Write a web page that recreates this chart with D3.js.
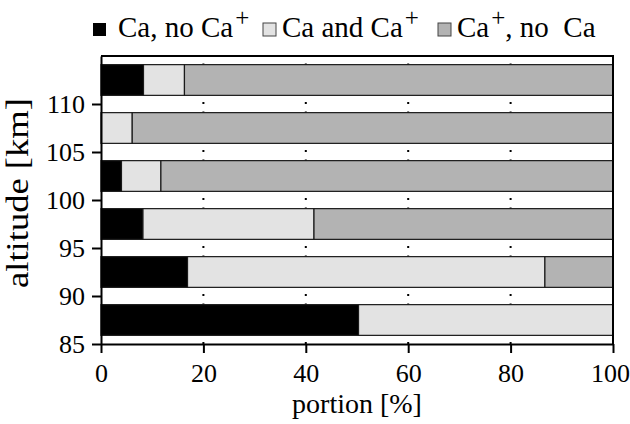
<!DOCTYPE html>
<html>
<head>
<meta charset="utf-8">
<script src="https://cdn.jsdelivr.net/npm/d3@7"></script>
<style>
  body { margin: 0; background: #fff; }
  svg text { font-family: "Liberation Serif", "Times New Roman", Tinos, "DejaVu Serif", serif; fill: #000; }
</style>
</head>
<body>
<div id="chart"></div>
<script>
// altitude bins (centre of each 5 km band) and portions in %
const altitudes = [87.5, 92.5, 97.5, 102.5, 107.5, 112.5];
const caOnly    = [50.3, 16.9, 8.2, 4.0, 0.0, 8.3];
const caBoth    = [49.7, 69.8, 33.4, 7.7, 6.1, 8.0];
const ionOnly   = [0.0, 13.3, 58.4, 88.3, 93.9, 83.7];
const xTicks = [0, 20, 40, 60, 80, 100];
const yTicks = [85, 90, 95, 100, 105, 110];

const seriesNames = ["caOnly", "caBoth", "ionOnly"];
const colors = { caOnly: "#000000", caBoth: "#e3e3e3", ionOnly: "#b3b3b3" };
const serif = "'Liberation Serif', 'Times New Roman', Tinos, 'DejaVu Serif', serif";

const width = 630;
const height = 424;
const margin = { top: 56, right: 17, bottom: 80, left: 101 };

const rows = altitudes.map((a, i) => ({
  alt: a, caOnly: caOnly[i], caBoth: caBoth[i], ionOnly: ionOnly[i]
}));
const stacked = d3.stack().keys(seriesNames)(rows);

const svg = d3.select("#chart")
  .append("svg")
  .attr("width", width)
  .attr("height", height);

const x = d3.scaleLinear()
  .domain([0, 100])
  .range([margin.left, width - margin.right]);

const y = d3.scaleLinear()
  .domain([85, 115])
  .range([height - margin.bottom, margin.top]);

const band = d3.scaleBand()
  .domain(altitudes.slice().reverse())
  .range([margin.top, height - margin.bottom])
  .paddingInner(0.36)
  .paddingOuter(0.18);

// dotted vertical grid (only visible in the gaps)
svg.selectAll("line.grid")
  .data(xTicks.filter(t => t > 0 && t < 100))
  .enter()
  .append("line")
  .attr("class", "grid")
  .attr("x1", d => x(d))
  .attr("x2", d => x(d))
  .attr("y1", y(85))
  .attr("y2", y(115))
  .attr("stroke", "#000")
  .attr("stroke-width", 2)
  .attr("stroke-dasharray", "2,7.6");

// stacked bars
svg.selectAll("g.series")
  .data(stacked)
  .enter()
  .append("g")
  .attr("class", "series")
  .attr("fill", d => colors[d.key])
  .selectAll("rect")
  .data(d => d.filter(s => s[1] - s[0] > 0))
  .enter()
  .append("rect")
  .attr("x", d => x(d[0]))
  .attr("y", d => band(d.data.alt))
  .attr("width", d => x(d[1]) - x(d[0]))
  .attr("height", band.bandwidth())
  .attr("stroke", "#1a1a1a")
  .attr("stroke-width", 1.2);

// frame (top and right)
svg.append("path")
  .attr("d", `M${x(0)},${y(115)}H${x(100)}V${y(85)}`)
  .attr("fill", "none")
  .attr("stroke", "#000")
  .attr("stroke-width", 2);

// axes
const xAxis = svg.append("g")
  .attr("transform", `translate(0,${y(85)})`)
  .call(d3.axisBottom(x).tickValues(xTicks).tickSize(9).tickSizeOuter(0).tickPadding(6));

const yAxis = svg.append("g")
  .attr("transform", `translate(${x(0)},0)`)
  .call(d3.axisLeft(y).tickValues(yTicks).tickSize(9).tickSizeOuter(0).tickPadding(7));

[xAxis, yAxis].forEach(g => {
  g.select(".domain").attr("stroke", "#000").attr("stroke-width", 2);
  g.selectAll(".tick line").attr("stroke", "#000").attr("stroke-width", 2);
  g.selectAll(".tick text")
    .attr("font-family", serif)
    .attr("font-size", 26)
    .attr("fill", "#000");
});
yAxis.selectAll(".tick text").attr("dy", "0.34em");
xAxis.selectAll(".tick text").attr("dy", "0.88em");
// keep the last label inside the window
xAxis.selectAll(".tick text").filter(d => d === 100).attr("dx", -3);

// axis titles
svg.append("text")
  .attr("x", (x(0) + x(100)) / 2)
  .attr("y", 413)
  .attr("text-anchor", "middle")
  .attr("font-family", serif)
  .attr("font-size", 28)
  .text("portion [%]");

svg.append("text")
  .attr("transform", "rotate(-90)")
  .attr("x", -193)
  .attr("y", 28)
  .attr("text-anchor", "middle")
  .attr("font-family", serif)
  .attr("font-size", 31)
  .attr("textLength", 190)
  .attr("lengthAdjust", "spacingAndGlyphs")
  .text("altitude [km]");

// legend
const legendItems = [
  { key: "caOnly",  x: 93,  parts: [["Ca, no Ca", false], ["+", true]] },
  { key: "caBoth",  x: 263, parts: [["Ca and Ca", false], ["+", true]] },
  { key: "ionOnly", x: 438, parts: [["Ca", false], ["+", true], [", no  Ca", false]] }
];

const legend = svg.selectAll("g.legend")
  .data(legendItems)
  .enter()
  .append("g")
  .attr("class", "legend")
  .attr("transform", d => `translate(${d.x},0)`);

legend.append("rect")
  .attr("x", 0)
  .attr("y", 23)
  .attr("width", 13)
  .attr("height", 13)
  .attr("fill", d => colors[d.key])
  .attr("stroke", d => d.key === "caOnly" ? "none" : "#444")
  .attr("stroke-width", 1);

const lt = legend.append("text")
  .attr("x", d => d.key === "caOnly" ? 25 : 19)
  .attr("y", 37)
  .attr("font-family", serif)
  .attr("font-size", 29)
  .attr("xml:space", "preserve");

lt.selectAll("tspan")
  .data(d => d.parts)
  .enter()
  .append("tspan")
  .attr("dx", p => p[1] ? 2 : 0)
  .attr("dy", (p, i) => p[1] ? -11 : (i > 0 ? 11 : 0))
  .attr("font-size", p => p[1] ? 25 : 29)
  .text(p => p[0]);
</script>
</body>
</html>
